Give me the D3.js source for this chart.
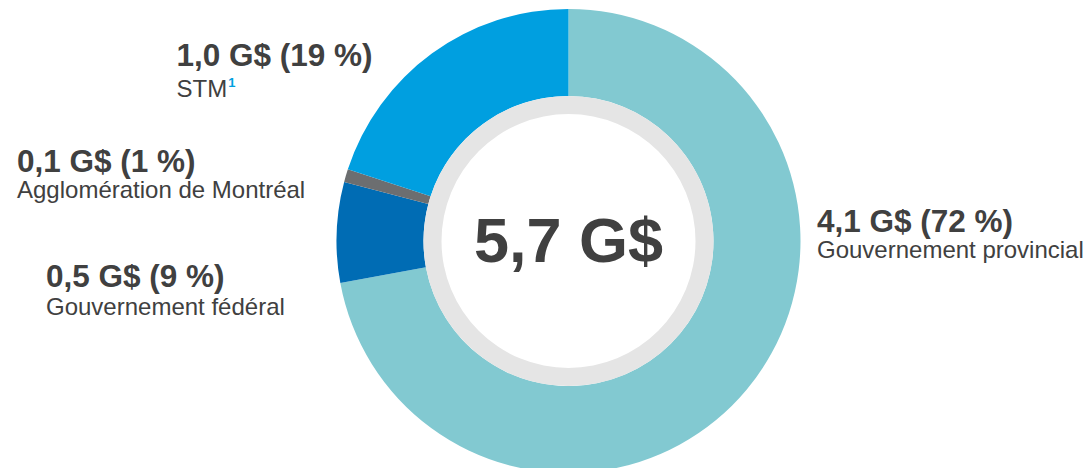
<!DOCTYPE html>
<html><head><meta charset="utf-8">
<script src="https://cdn.jsdelivr.net/npm/d3@7"></script>
<style>html,body{margin:0;padding:0;background:#fff;}svg{display:block;}</style>
</head><body>
<svg id="c" width="1086" height="468"></svg>
<script>
// Data
const categories = ["Gouvernement provincial", "Gouvernement fédéral", "Agglomération de Montréal", "STM"];
const amounts = ["4,1 G$", "0,5 G$", "0,1 G$", "1,0 G$"];
const percents = ["72 %", "9 %", "1 %", "19 %"];
// arc shares as drawn in the reference (clockwise from 12 o'clock)
const shares = [72.1, 7.0, 0.9, 20.0];
const colors = ["#82C9D1", "#006CB4", "#6C6E70", "#009FE0"];
const totalLabel = "5,7 G$";

const svg = d3.select("#c");
const cx = 568.5, cy = 241, R = 232, r = 145, rRing = 127;
const g = svg.append("g").attr("transform", `translate(${cx},${cy})`);

const pie = d3.pie().sort(null).value(d => d);
const arc = d3.arc().innerRadius(r).outerRadius(R);
g.selectAll("path.slice").data(pie(shares)).join("path")
  .attr("class", "slice")
  .attr("d", arc)
  .attr("fill", (d, i) => colors[i]);

// grey ring + white centre
g.append("path").attr("d", d3.arc().innerRadius(rRing).outerRadius(r).startAngle(0).endAngle(2 * Math.PI)())
  .attr("fill", "#E5E5E5");

const font = "Liberation Sans, Arial, sans-serif";
g.append("text").attr("x", 0).attr("y", 262 - cy)
  .attr("text-anchor", "middle")
  .attr("font-family", font)
  .attr("font-weight", "bold").attr("font-size", 63)
  .attr("fill", "#404040").text(totalLabel);

// labels (positions per category index)
const labelPos = [
  {x: 817, y1: 232, y2: 258},
  {x: 46, y1: 287, y2: 315},
  {x: 17, y1: 172, y2: 198},
  {x: 176.5, y1: 66, y2: 97}
];
categories.forEach((c, i) => {
  const p = labelPos[i];
  svg.append("text").attr("x", p.x).attr("y", p.y1)
    .attr("font-family", font).attr("font-weight", "bold").attr("font-size", 31.5)
    .attr("fill", "#404040").text(`${amounts[i]} (${percents[i]})`);
  const t = svg.append("text").attr("x", p.x).attr("y", p.y2)
    .attr("font-family", font).attr("font-size", 24)
    .attr("fill", "#404040");
  t.append("tspan").text(c);
  if (c === "STM") {
    t.append("tspan").attr("dy", -10).attr("dx", 1).attr("font-size", 13).attr("font-weight", "bold")
      .attr("fill", "#009FE0").text("1");
  }
});
</script>
</body></html>
